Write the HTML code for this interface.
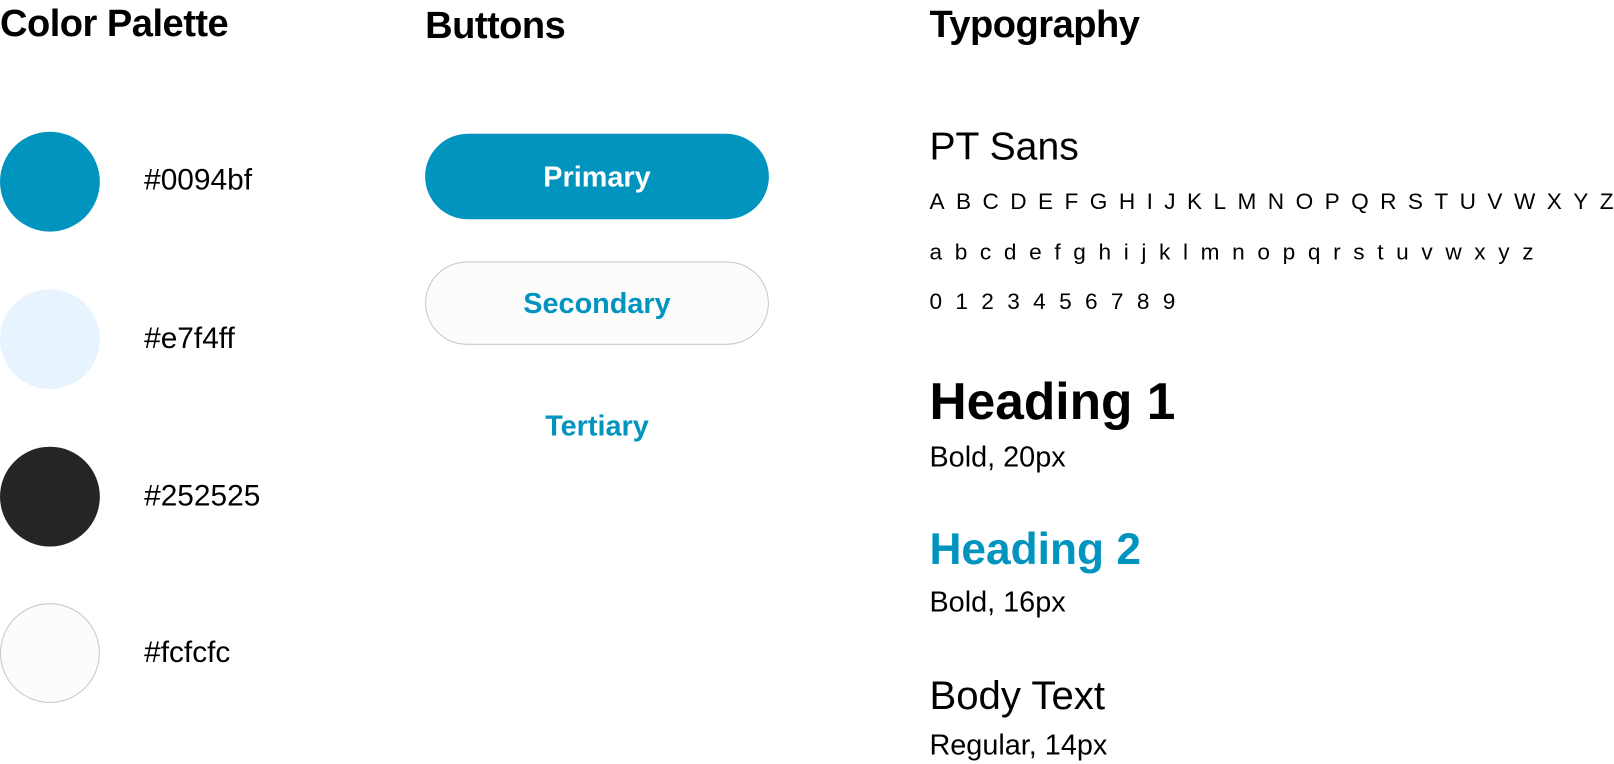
<!DOCTYPE html>
<html><head><meta charset="utf-8"><style>
body{margin:0;width:1614px;height:764px;background:#fff;font-family:"Liberation Sans",sans-serif;color:#000;overflow:hidden}
#w{position:relative;width:1568px;height:742px;transform:scale(1.0293);transform-origin:0 0}
.a{position:absolute;white-space:nowrap;line-height:1}
h2{position:absolute;margin:0;font-size:37px;font-weight:bold;line-height:1;letter-spacing:-0.5px}
.c{position:absolute;left:0;width:97px;height:97px;border-radius:50%}
.hx{position:absolute;left:140px;font-size:29px;line-height:1}
.btn{position:absolute;left:413px;width:334px;border-radius:42px;box-sizing:border-box;display:flex;align-items:center;justify-content:center;font-weight:bold;font-size:28px}
.row{position:absolute;left:903px;display:flex;justify-content:space-between;font-size:22px;line-height:1}
</style></head><body><div id="w">
<h2 style="left:0;top:4px">Color Palette</h2>
<h2 style="left:413px;top:6px">Buttons</h2>
<h2 style="left:903px;top:5px">Typography</h2>

<div class="c" style="top:128px;background:#0094bf"></div>
<div class="c" style="top:281px;background:#e7f4ff"></div>
<div class="c" style="top:434px;background:#252525"></div>
<div class="c" style="top:586px;background:#fcfcfc;border:1px solid #c8c8c8;box-sizing:border-box"></div>
<div class="hx" style="top:161px">#0094bf</div>
<div class="hx" style="top:315px">#e7f4ff</div>
<div class="hx" style="top:468px">#252525</div>
<div class="hx" style="top:620px">#fcfcfc</div>

<div class="btn" style="top:130px;height:83px;background:#0094bf;color:#fff">Primary</div>
<div class="btn" style="top:254px;height:81px;background:#fcfcfc;border:1px solid #c8c8c8;color:#0094bf">Secondary</div>
<div class="a" style="left:413px;width:334px;text-align:center;top:400px;font-size:28px;font-weight:bold;color:#0094bf">Tertiary</div>

<div class="a" style="left:903px;top:124px;font-size:38px">PT Sans</div>
<div class="row" style="top:185px;width:665px"><span>A</span><span>B</span><span>C</span><span>D</span><span>E</span><span>F</span><span>G</span><span>H</span><span>I</span><span>J</span><span>K</span><span>L</span><span>M</span><span>N</span><span>O</span><span>P</span><span>Q</span><span>R</span><span>S</span><span>T</span><span>U</span><span>V</span><span>W</span><span>X</span><span>Y</span><span>Z</span></div>
<div class="row" style="top:234px;width:587px"><span>a</span><span>b</span><span>c</span><span>d</span><span>e</span><span>f</span><span>g</span><span>h</span><span>i</span><span>j</span><span>k</span><span>l</span><span>m</span><span>n</span><span>o</span><span>p</span><span>q</span><span>r</span><span>s</span><span>t</span><span>u</span><span>v</span><span>w</span><span>x</span><span>y</span><span>z</span></div>
<div class="row" style="top:282px;width:239px"><span>0</span><span>1</span><span>2</span><span>3</span><span>4</span><span>5</span><span>6</span><span>7</span><span>8</span><span>9</span></div>

<div class="a" style="left:903px;top:365px;font-size:50px;font-weight:bold">Heading 1</div>
<div class="a" style="left:903px;top:430px;font-size:28px">Bold, 20px</div>
<div class="a" style="left:903px;top:513px;font-size:43px;font-weight:bold;color:#0094bf">Heading 2</div>
<div class="a" style="left:903px;top:571px;font-size:28px">Bold, 16px</div>
<div class="a" style="left:903px;top:657px;font-size:39px">Body Text</div>
<div class="a" style="left:903px;top:710px;font-size:28px">Regular, 14px</div>
</div></body></html>
